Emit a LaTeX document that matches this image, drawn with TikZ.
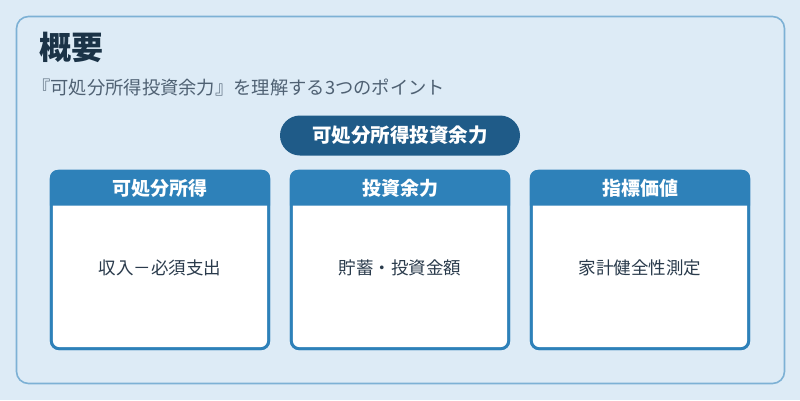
\documentclass[tikz,border=0pt]{standalone}
\usepackage{fontspec}
\setmainfont{Noto Sans CJK JP}
\definecolor{bgc}{HTML}{DDEBF6}
\definecolor{outerc}{HTML}{7DB1D5}
\definecolor{titlec}{HTML}{1B3347}
\definecolor{subc}{HTML}{4F6173}
\definecolor{pillc}{HTML}{1F5B88}
\definecolor{hdrc}{HTML}{2E81B9}
\definecolor{bodyc}{HTML}{2A3B4C}
\tikzset{
  cardbox/.style={draw=hdrc, line width=2.8pt, rounded corners=8pt, minimum width=217.5pt, minimum height=177.5pt, inner sep=0pt},
  hdrtext/.style={text=white, font=\fontsize{19}{22}\selectfont\bfseries},
  bodytext/.style={text=bodyc, font=\fontsize{17.5}{20}\selectfont},
}
\begin{document}
\begin{tikzpicture}[x=1pt,y=-1pt]
\useasboundingbox (0,0) rectangle (800,400);
\fill[bgc] (0,0) rectangle (800,400);
\node[draw=outerc, line width=1.6pt, rounded corners=12pt, minimum width=768pt, minimum height=367pt, inner sep=0pt] (outer) at (400.5,200) {};
\node[anchor=west, text=titlec, font=\fontsize{32}{36}\selectfont\bfseries, inner sep=0pt] (title) at (39,47) {概要};
\node[anchor=west, text=subc, font=\fontsize{18.3}{21}\selectfont, inner sep=0pt] (sub) at (32,88) {『可処分所得投資余力』を理解する3つのポイント};
\node[fill=pillc, rounded corners=20pt, minimum width=240pt, minimum height=40pt, inner sep=0pt, text=white, font=\fontsize{19.5}{22}\selectfont\bfseries] (pill) at (400,135.5) {可処分所得投資余力};
\foreach \i/\cx/\h/\b in {1/160/可処分所得/収入－必須支出, 2/400/投資余力/貯蓄・投資金額, 3/640/指標価値/家計健全性測定} {
  \node[cardbox, fill=white] (card\i) at (\cx,260) {};
  \fill[hdrc] ([yshift=-35.75pt]card\i.north west) [rounded corners=8pt] -- (card\i.north west) -- (card\i.north east) [sharp corners] -- ([yshift=-35.75pt]card\i.north east) -- cycle;
  \node[cardbox] (frame\i) at (\cx,260) {};
  \node[hdrtext] (hdr\i) at (\cx,188.5) {\h};
  \node[bodytext] (body\i) at (\cx,268) {\b};
}
\end{tikzpicture}
\end{document}
